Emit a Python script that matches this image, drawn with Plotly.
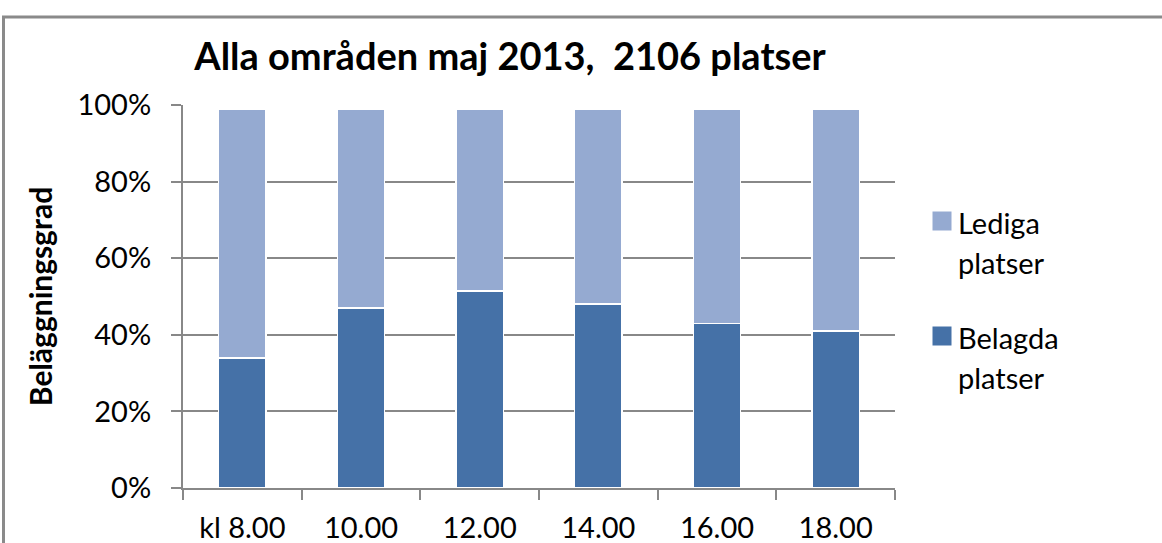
import plotly.graph_objects as go

categories = ["kl 8.00", "10.00", "12.00", "14.00", "16.00", "18.00"]
belagda = [34.0, 47.0, 51.5, 48.0, 43.0, 41.0]
lediga = [65.0, 52.0, 47.5, 51.0, 56.0, 58.0]
ytick_vals = [0, 20, 40, 60, 80, 100]
ytick_text = ["0%", "20%", "40%", "60%", "80%", "100%"]
legend_names = ["Lediga", "Belagda"]

FONT = "Lato"
dark = "#4571A7"
light = "#95AAD1"
grid = "#888888"

fig = go.Figure()
fig.add_trace(go.Bar(x=categories, y=belagda, name="Belagda platser",
                     marker=dict(color=dark, line=dict(color="white", width=1.5))))
fig.add_trace(go.Bar(x=categories, y=lediga, name="Lediga platser",
                     marker=dict(color=light, line=dict(color="white", width=1.5))))

W, H = 1162, 543
L, R, T, B = 183, 267, 105, 55
pw, ph = W - L - R, H - T - B


def px(x):
    return (x - L) / pw


def py(y):
    return (H - B - y) / ph


fig.update_layout(
    width=W, height=H,
    margin=dict(l=L, r=R, t=T, b=B, autoexpand=False),
    barmode="stack", bargap=0.6,
    paper_bgcolor="white", plot_bgcolor="white",
    font=dict(family=FONT, color="black"),
    title=dict(text="<b>Alla områden maj 2013,  2106 platser</b>",
               x=510 / W, xanchor="center", y=1 - 57 / H, yanchor="middle",
               font=dict(size=38, family=FONT, color="black")),
    showlegend=False,
    xaxis=dict(type="category", showline=True, linecolor=grid, linewidth=2,
               ticks="outside", ticklen=10, tickcolor=grid, tickwidth=2,
               tickson="boundaries", showgrid=False,
               tickfont=dict(size=29, family=FONT, color="black"),
               ticklabelstandoff=13),
    yaxis=dict(range=[0, 100], tickvals=ytick_vals, ticktext=ytick_text,
               showline=True, linecolor=grid, linewidth=2,
               ticks="outside", ticklen=10, tickcolor=grid, tickwidth=2,
               showgrid=True, gridcolor=grid, gridwidth=2, zeroline=False,
               tickfont=dict(size=29, family=FONT, color="black"),
               ticklabelstandoff=14,
               title=dict(text="<b>Beläggningsgrad</b>", standoff=16,
                          font=dict(size=30, family=FONT, color="black"))),
)

# outer chart frame (top and left edges visible in the crop)
frame = dict(color="#8a8a8a", width=3)
fig.add_shape(type="line", xref="paper", yref="paper",
              x0=px(2), x1=px(W + 40), y0=py(17), y1=py(17), line=frame, layer="below")
fig.add_shape(type="line", xref="paper", yref="paper",
              x0=px(3.5), x1=px(3.5), y0=py(16), y1=py(H + 40), line=frame, layer="below")

# legend (drawn manually to match large square keys)
legend_colors = [light, dark]
key_tops = [211, 326]
for name, col, top in zip(legend_names, legend_colors, key_tops):
    fig.add_shape(type="rect", xref="paper", yref="paper",
                  x0=px(932), x1=px(952), y0=py(top + 20), y1=py(top),
                  line=dict(color="white", width=1), fillcolor=col)
    fig.add_annotation(text=name, xref="paper", yref="paper",
                       x=px(956), y=py(top + 11), xanchor="left", yanchor="middle",
                       showarrow=False, font=dict(size=29, family=FONT, color="black"))
    fig.add_annotation(text="platser", xref="paper", yref="paper",
                       x=px(956), y=py(top + 51), xanchor="left", yanchor="middle",
                       showarrow=False, font=dict(size=29, family=FONT, color="black"))

fig.write_html(
    "out.html", config={"displayModeBar": False},
    post_script=("document.body.style.margin='0';document.body.style.padding='0';"
                 "document.body.style.overflow='hidden';"
                 "document.documentElement.style.overflow='hidden';"))
